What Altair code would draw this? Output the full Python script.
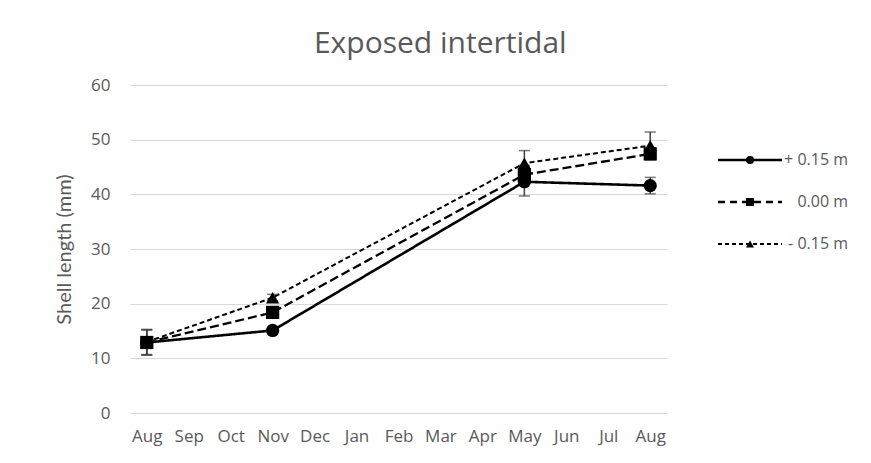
import json
import altair as alt
import pandas as pd

months = ["Aug", "Sep", "Oct", "Nov", "Dec", "Jan", "Feb", "Mar", "Apr", "May", "Jun", "Jul", "Aug"]
sample_idx = [0, 3, 9, 12]
series_names = ["+ 0.15 m", "0.00 m", "- 0.15 m"]
plus015 = [12.9, 15.1, 42.3, 41.6]
zero00 = [12.9, 18.4, 43.6, 47.4]
minus015 = [13.0, 21.1, 45.7, 48.9]
err_plus015 = [2.3, 0.6, 2.6, 1.5]
err_zero00 = [2.3, 0.6, 1.7, 1.1]
err_minus015 = [2.3, 0.6, 2.3, 2.5]

rows = []
for name, vals, errs in [(series_names[0], plus015, err_plus015),
                         (series_names[1], zero00, err_zero00),
                         (series_names[2], minus015, err_minus015)]:
    for i, v, e in zip(sample_idx, vals, errs):
        rows.append({"series": name, "idx": i, "value": v, "lo": v - e, "hi": v + e})
df = pd.DataFrame(rows)

grey = "#595959"
grid = "#d9d9d9"
font = "Open Sans"

dash_scale = alt.Scale(domain=series_names, range=[[1, 0], [9, 4], [5, 3]])
width_scale = alt.Scale(domain=series_names, range=[2.6, 2, 2])
shape_scale = alt.Scale(domain=series_names, range=["circle", "square", "triangle-up"])

label_expr = json.dumps(months) + "[datum.value]"

x = alt.X("idx:Q", scale=alt.Scale(domain=[-0.4, 12.4], nice=False, zero=False),
          axis=alt.Axis(values=list(range(13)), labelExpr=label_expr, grid=False, domain=False,
                        ticks=False, labelPadding=15, labelFontSize=17, labelColor=grey,
                        labelFont=font, title=None, labelFlush=False))
y = alt.Y("value:Q", scale=alt.Scale(domain=[0, 60], nice=False),
          axis=alt.Axis(values=list(range(0, 61, 10)), grid=True, gridColor=grid, gridWidth=1.2,
                        domain=False, ticks=False, labelPadding=20, labelFontSize=17,
                        labelColor=grey, labelFont=font, title="Shell length (mm)",
                        titleFont="Lato", titleFontSize=20, titleFontWeight="normal",
                        titleColor=grey, titlePadding=16))

base = alt.Chart(df)
lines = base.mark_line(color="black").encode(
    x=x, y=y,
    strokeDash=alt.StrokeDash("series:N", scale=dash_scale, legend=None),
    strokeWidth=alt.StrokeWidth("series:N", scale=width_scale, legend=None),
    detail="series:N",
)
bars = base.mark_rule(color="#404040", strokeWidth=1.5).encode(x="idx:Q", y="lo:Q", y2="hi:Q")
caps_hi = base.mark_tick(color="#404040", orient="horizontal", size=11, thickness=1.5).encode(x="idx:Q", y="hi:Q")
caps_lo = base.mark_tick(color="#404040", orient="horizontal", size=11, thickness=1.5).encode(x="idx:Q", y="lo:Q")
points = base.mark_point(filled=True, color="black", opacity=1, size=175).encode(
    x="idx:Q", y="value:Q",
    shape=alt.Shape("series:N", scale=shape_scale, legend=None),
)
main = alt.layer(lines, bars, caps_hi, caps_lo, points).properties(width=537, height=328)

# custom legend panel
leg_rows = []
for name in series_names:
    for xv in [0, 1]:
        leg_rows.append({"series": name, "lx": xv})
leg_df = pd.DataFrame(leg_rows)
pt_df = pd.DataFrame({"series": series_names, "lx": [0.5] * 3, "one": [1.0] * 3})

ly = alt.Y("series:N", scale=alt.Scale(domain=series_names, range=[75, 159], padding=0), axis=None)
lx = alt.X("lx:Q", scale=alt.Scale(domain=[0, 1]), axis=None)
leg_lines = alt.Chart(leg_df).mark_line(color="black").encode(
    x=lx, y=ly, detail="series:N",
    strokeDash=alt.StrokeDash("series:N", scale=alt.Scale(domain=series_names, range=[[1, 0], [7, 5], [4, 3]]), legend=None),
    strokeWidth=alt.StrokeWidth("series:N", scale=width_scale, legend=None),
)
leg_pts = alt.Chart(pt_df).mark_point(filled=True, color="black", opacity=1, size=64).encode(
    x=lx, y=ly, shape=alt.Shape("series:N", scale=shape_scale, legend=None))
leg_txt = alt.Chart(pt_df).mark_text(align="right", baseline="middle", dx=66, fontSize=16,
                                     font=font, color=grey).encode(
    x=alt.X("one:Q", scale=alt.Scale(domain=[0, 1]), axis=None), y=ly, text="series:N"
)
legend = alt.layer(leg_lines, leg_pts, leg_txt).properties(width=64, height=328)

chart = alt.hconcat(main, legend, spacing=44).resolve_scale(
    strokeDash="independent", shape="independent", strokeWidth="independent", x="independent", y="independent"
).properties(
    title=alt.Title("Exposed intertidal", fontSize=30, font=font, fontWeight="normal",
                    color=grey, anchor="middle", dx=-11, offset=17),
    padding={"left": 46, "top": 20, "right": 5, "bottom": 5},
).configure(background="white", view=alt.ViewConfig(stroke="transparent"))

chart.save("out.html", embed_options={"renderer": "svg", "actions": False})
